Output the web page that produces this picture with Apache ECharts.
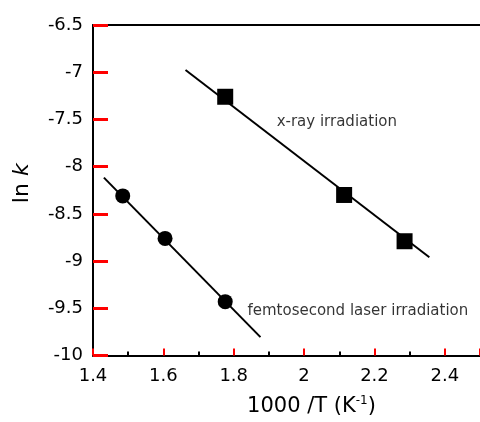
<!DOCTYPE html>
<html>
<head>
<meta charset="utf-8">
<script src="https://cdn.jsdelivr.net/npm/echarts@6/dist/echarts.min.js"></script>
<style>
  html, body { margin: 0; padding: 0; background: #fff; }
  #chart { width: 480px; height: 422px; }
</style>
</head>
<body>
<div id="chart"></div>
<script>
// femtosecond laser irradiation (circles)
var fsX = [1.4845, 1.6048, 1.7758]
var fsY = [-8.31, -8.76, -9.43]
var fsFitX = [1.431, 1.876]
var fsFitY = [-8.116, -9.805]

// x-ray irradiation (squares)
var xrX = [1.7758, 2.1138, 2.2856]
var xrY = [-7.26, -8.30, -8.79]
var xrFitX = [1.663, 2.356]
var xrFitY = [-6.977, -8.959]

// annotation text
var noteText = ['x-ray irradiation', 'femtosecond laser irradiation']
var noteX = [1.922, 1.839]
var noteY = [-7.524, -9.527]

var xTicks = [1.4, 1.6, 1.8, 2, 2.2, 2.4]
var yTicks = [-10, -9.5, -9, -8.5, -8, -7.5, -7, -6.5]

function zip(a, b) {
  return a.map(function (v, i) { return [v, b[i]] })
}

var font = 'DejaVu Sans'
var chart = echarts.init(document.getElementById('chart'), null, { renderer: 'canvas' })

chart.setOption({
  animation: false,
  backgroundColor: '#fff',
  grid: { left: 93, right: -4, top: 25, bottom: 66 },
  xAxis: [
    {
      type: 'value',
      min: xTicks[0],
      max: 2.5,
      interval: 0.2,
      name: '1000 /T (K{sup|-1})',
      nameLocation: 'middle',
      nameGap: 39,
      nameTextStyle: {
        fontFamily: font,
        fontSize: 21,
        color: '#000',
        padding: [0, 0, 0, 50],
        rich: {
          sup: { fontFamily: font, fontSize: 12, color: '#000', padding: [0, 0, 12, 0] }
        }
      },
      axisLine: { show: true, lineStyle: { color: '#000', width: 2 } },
      axisTick: { show: true, inside: true, length: 7, lineStyle: { color: 'red', width: 2 } },
      minorTick: { show: true, splitNumber: 2, length: 4, lineStyle: { color: '#000', width: 2 } },
      splitLine: { show: false },
      axisLabel: {
        margin: 12,
        fontFamily: font,
        fontSize: 18,
        color: '#000',
        showMaxLabel: false
      }
    },
    {
      type: 'value',
      position: 'top',
      min: xTicks[0],
      max: 2.5,
      axisLine: { show: true, lineStyle: { color: '#000', width: 2 } },
      axisTick: { show: false },
      axisLabel: { show: false },
      splitLine: { show: false }
    }
  ],
  yAxis: {
    type: 'value',
    min: yTicks[0],
    max: yTicks[yTicks.length - 1],
    interval: 0.5,
    name: 'ln {i|k}',
    nameLocation: 'middle',
    nameGap: 60,
    nameRotate: 90,
    nameTextStyle: {
      fontFamily: font,
      fontSize: 22,
      color: '#000',
      padding: [0, 0, 0, 14],
      rich: {
        i: { fontFamily: font, fontSize: 22, fontStyle: 'italic', color: '#000' }
      }
    },
    axisLine: { show: true, lineStyle: { color: '#000', width: 2 } },
    axisTick: { show: true, inside: true, length: 15, lineStyle: { color: 'red', width: 3 } },
    splitLine: { show: false },
    axisLabel: { margin: 10, fontFamily: font, fontSize: 18, color: '#000' }
  },
  series: [
    {
      type: 'line',
      data: zip(fsFitX, fsFitY),
      symbol: 'none',
      lineStyle: { color: '#000', width: 2 }
    },
    {
      type: 'line',
      data: zip(xrFitX, xrFitY),
      symbol: 'none',
      lineStyle: { color: '#000', width: 2 }
    },
    {
      type: 'scatter',
      data: zip(fsX, fsY),
      symbol: 'circle',
      symbolSize: 15,
      itemStyle: { color: '#000', opacity: 1 }
    },
    {
      type: 'scatter',
      data: zip(xrX, xrY),
      symbol: 'rect',
      symbolSize: 16,
      itemStyle: { color: '#000', opacity: 1 }
    },
    {
      type: 'scatter',
      symbolSize: 0,
      data: noteText.map(function (t, i) { return { value: [noteX[i], noteY[i]], name: t } }),
      label: {
        show: true,
        position: 'right',
        distance: 0,
        formatter: '{b}',
        fontFamily: font,
        fontSize: 15,
        color: '#000'
      }
    }
  ]
})
</script>
</body>
</html>
